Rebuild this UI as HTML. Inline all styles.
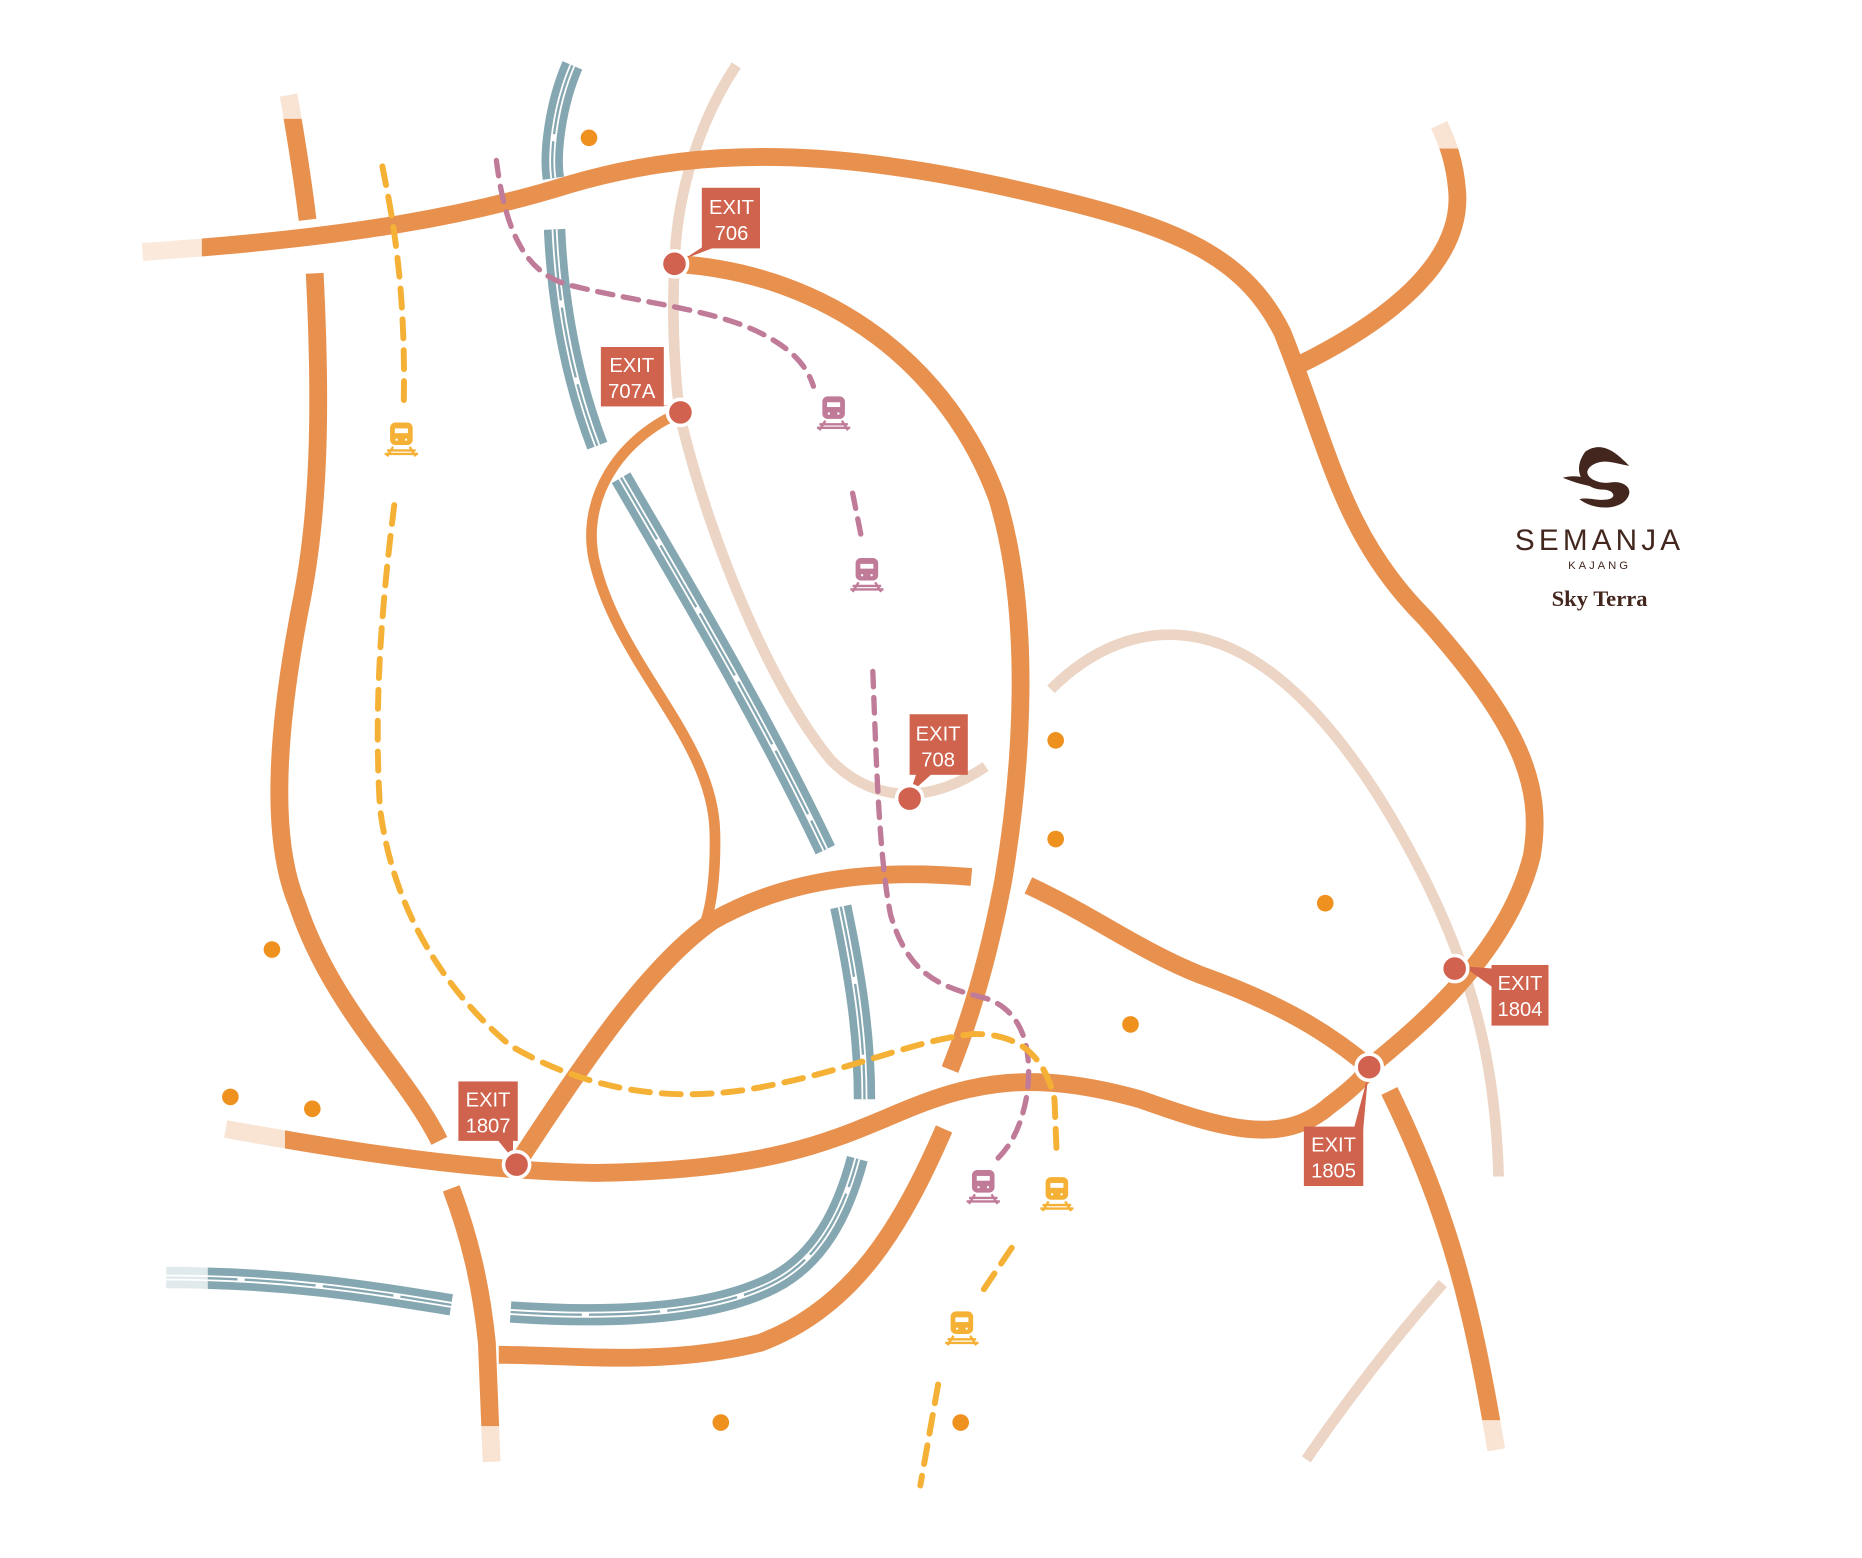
<!DOCTYPE html>
<html><head><meta charset="utf-8"><style>
html,body{margin:0;padding:0;background:#fff;}
svg{display:block;}
.o{fill:none;stroke:#e8914f;stroke-width:15;stroke-linecap:butt;}
.b{fill:none;stroke:#ecd5c4;stroke-width:9;}
.h{fill:none;stroke:#85a7b1;stroke-width:18;}
.hl{fill:none;stroke:#fff;stroke-width:5;}
.hl2{fill:none;stroke:#85a7b1;stroke-width:2;}
.p{fill:none;stroke:#c07b98;stroke-width:4.5;stroke-dasharray:13 9;stroke-linecap:round;}
.y{fill:none;stroke:#f5b135;stroke-width:5;stroke-dasharray:16 10;stroke-linecap:round;}
.lbl{fill:#cf634e;}
.lt{font-family:"Liberation Sans",sans-serif;font-size:17px;fill:#fff;text-anchor:middle;}
.ex{fill:#d0624f;stroke:#fff;stroke-width:3;}
.dot{fill:#ef911f;}
</style></head><body>
<svg width="1862" height="1558" viewBox="0 0 1568 1311" preserveAspectRatio="none" xmlns="http://www.w3.org/2000/svg">
<defs>
<g id="tr"><rect x="-9" y="-14" width="18" height="18" rx="4"/><rect x="-6" y="-10" width="12" height="5" fill="#fff"/><circle cx="-4" cy="0" r="1.5" fill="#fff"/><circle cx="4" cy="0" r="1.5" fill="#fff"/><path d="M-7 6 L-12 14 M7 6 L12 14 M-14 12 H14 M-12 9 H12" stroke-width="2" fill="none"/></g>
</defs>
<path class="b" d="M620,55 C590,100 570,160 568,222 C565,280 570,340 575,360 C600,460 650,580 700,640 C730,670 775,682 830,645"/>
<path class="b" d="M885,580 C920,545 960,530 1000,535 C1080,545 1150,640 1200,740 C1250,840 1260,920 1262,990"/>
<path class="b" d="M1100,1228 C1140,1170 1180,1120 1215,1080"/>
<g>
<path class="h" d="M482,55 C467,90 463,130 466,150"/>
<path class="h" d="M467,193 C470,260 482,320 503,375"/>
<path class="h" d="M523,402 C580,500 640,600 695,715"/>
<path class="h" d="M708,763 C720,820 728,870 728,925"/>
<path class="h" d="M140,1075 C250,1075 330,1090 380,1098"/>
<path class="h" d="M430,1104 C520,1110 600,1105 650,1080 C690,1060 710,1020 722,975"/>
<path class="hl" d="M482,55 C467,90 463,130 466,150 M467,193 C470,260 482,320 503,375 M523,402 C580,500 640,600 695,715 M708,763 C720,820 728,870 728,925 M140,1075 C250,1075 330,1090 380,1098 M430,1104 C520,1110 600,1105 650,1080 C690,1060 710,1020 722,975"/>
<path class="hl2" d="M482,55 C467,90 463,130 466,150 M467,193 C470,260 482,320 503,375 M523,402 C580,500 640,600 695,715 M708,763 C720,820 728,870 728,925 M140,1075 C250,1075 330,1090 380,1098 M430,1104 C520,1110 600,1105 650,1080 C690,1060 710,1020 722,975" stroke-dasharray="60 6"/>
</g>
<path class="o" d="M120,212 C300,200 400,180 480,155 C600,120 720,125 900,170 C1000,195 1050,220 1080,280 C1120,380 1130,450 1200,520 C1280,610 1300,660 1290,720 C1270,800 1200,860 1153,898"/>
<path class="o" d="M1170,918 C1220,1020 1240,1100 1260,1220"/>
<path class="o" d="M1092,308 C1180,265 1232,215 1227,160 C1225,135 1218,118 1212,105"/>
<path class="o" d="M243,80 C250,120 256,160 259,185"/>
<path class="o" d="M265,230 C270,330 270,420 255,500 C235,600 225,700 250,760 C280,850 340,900 370,960"/>
<path class="o" d="M380,1000 C395,1040 405,1080 410,1130 L414,1230"/>
<path class="o" d="M568,222 C700,230 800,310 840,420 C870,520 860,650 845,740 C830,820 812,870 800,900"/>
<path class="o" d="M795,950 C760,1030 720,1100 640,1130 C560,1150 480,1140 420,1140"/>
<path class="o" d="M435,980 C500,880 550,810 600,775 C670,735 750,732 818,738"/>
<path class="o" d="M866,745 C920,770 960,800 1010,820 C1080,845 1120,870 1153,898"/>
<path class="o" d="M190,950 C300,970 400,985 500,987 C650,985 700,960 760,935 C820,910 870,900 960,925 C1030,950 1080,965 1120,930 C1140,915 1150,905 1153,898"/>
<path class="o" d="M573,347 C520,370 490,420 500,470 C520,560 600,620 602,700 C603,740 598,765 594,776" style="stroke-width:9"/>
<rect x="110" y="190" width="60" height="40" fill="#fff" opacity="0.8"/>
<rect x="180" y="935" width="60" height="35" fill="#fff" opacity="0.75"/>
<rect x="125" y="1060" width="50" height="35" fill="#fff" opacity="0.75"/>
<rect x="395" y="1200" width="40" height="40" fill="#fff" opacity="0.75"/>
<rect x="1240" y="1195" width="40" height="40" fill="#fff" opacity="0.75"/>
<rect x="1195" y="95" width="40" height="30" fill="#fff" opacity="0.75"/>
<rect x="230" y="70" width="35" height="30" fill="#fff" opacity="0.75"/>
<path class="p" d="M418,135 C425,190 440,230 480,240 C540,255 600,260 640,280 C670,295 680,310 685,325"/>
<path class="p" d="M718,415 L725,450"/>
<path class="p" d="M735,565 C738,640 740,720 750,770 C765,820 790,830 830,840 C860,850 870,880 865,920 C860,950 850,965 840,975"/>
<path class="y" d="M322,140 C330,180 342,240 340,340"/>
<path class="y" d="M332,425 C320,520 315,600 320,680 C330,760 370,830 430,880 C490,915 560,930 640,915 C720,900 770,875 820,870 C860,870 880,890 888,925 L890,975"/>
<path class="y" d="M852,1050 L825,1090"/>
<path class="y" d="M790,1165 L775,1250"/>
<g fill="#f5b135" stroke="#f5b135"><use href="#tr" x="338" y="370"/><use href="#tr" x="890" y="1005"/><use href="#tr" x="810" y="1118"/></g>
<g fill="#c07b98" stroke="#c07b98"><use href="#tr" x="702" y="348"/><use href="#tr" x="730" y="484"/><use href="#tr" x="828" y="999"/></g>
<g class="dot"><circle cx="496" cy="116" r="7"/><circle cx="889" cy="623" r="7"/><circle cx="889" cy="706" r="7"/><circle cx="1116" cy="760" r="7"/><circle cx="952" cy="862" r="7"/><circle cx="229" cy="799" r="7"/><circle cx="194" cy="923" r="7"/><circle cx="263" cy="933" r="7"/><circle cx="607" cy="1197" r="7"/><circle cx="809" cy="1197" r="7"/></g>
<g class="lbl">
<rect x="591" y="158" width="49" height="51"/><path d="M596,205 L576,218 L610,205Z"/>
<rect x="506" y="292" width="53" height="50"/><path d="M545,340 L568,342 L553,340Z"/>
<rect x="766" y="601" width="49" height="51"/><path d="M772,650 L766,668 L786,650Z"/>
<rect x="1256" y="812" width="48" height="51"/><path d="M1256,815 L1232,813 L1256,830Z"/>
<rect x="1098" y="948" width="50" height="50"/><path d="M1140,950 L1152,905 L1148,950Z"/>
<rect x="386" y="910" width="50" height="50"/><path d="M418,958 L432,975 L432,958Z"/>
</g>
<g class="ex"><circle cx="568" cy="222" r="11"/><circle cx="573" cy="347" r="11"/><circle cx="766" cy="672" r="11"/><circle cx="1225" cy="815" r="11"/><circle cx="1153" cy="898" r="11"/><circle cx="435" cy="980" r="11"/></g>
<g class="lt">
<text x="616" y="180">EXIT</text><text x="616" y="202">706</text>
<text x="532" y="313">EXIT</text><text x="532" y="335">707A</text>
<text x="790" y="623">EXIT</text><text x="790" y="645">708</text>
<text x="1280" y="833">EXIT</text><text x="1280" y="855">1804</text>
<text x="1123" y="969">EXIT</text><text x="1123" y="991">1805</text>
<text x="411" y="931">EXIT</text><text x="411" y="953">1807</text>
</g>
<g fill="#43271f">
<path d="M1335,380 C1350,370 1362,382 1372,392 C1360,390 1350,385 1340,392 C1330,400 1345,408 1356,406 C1368,404 1378,412 1368,422 C1358,430 1340,428 1330,420 C1338,418 1345,422 1355,420 C1362,418 1358,412 1350,412 C1335,412 1322,398 1335,380Z"/>
<path d="M1316,402 C1330,398 1342,404 1350,410 C1338,410 1326,406 1316,402Z"/>
<text x="1347" y="463" font-family="'Liberation Sans',sans-serif" font-size="25" letter-spacing="3.5" text-anchor="middle">SEMANJA</text>
<text x="1347" y="479" font-family="'Liberation Sans',sans-serif" font-size="9.5" letter-spacing="2.5" text-anchor="middle">KAJANG</text>
<text x="1347" y="510" font-family="'Liberation Serif',serif" font-size="19" font-weight="bold" text-anchor="middle">Sky Terra</text>
</g>
</svg>
</body></html>
